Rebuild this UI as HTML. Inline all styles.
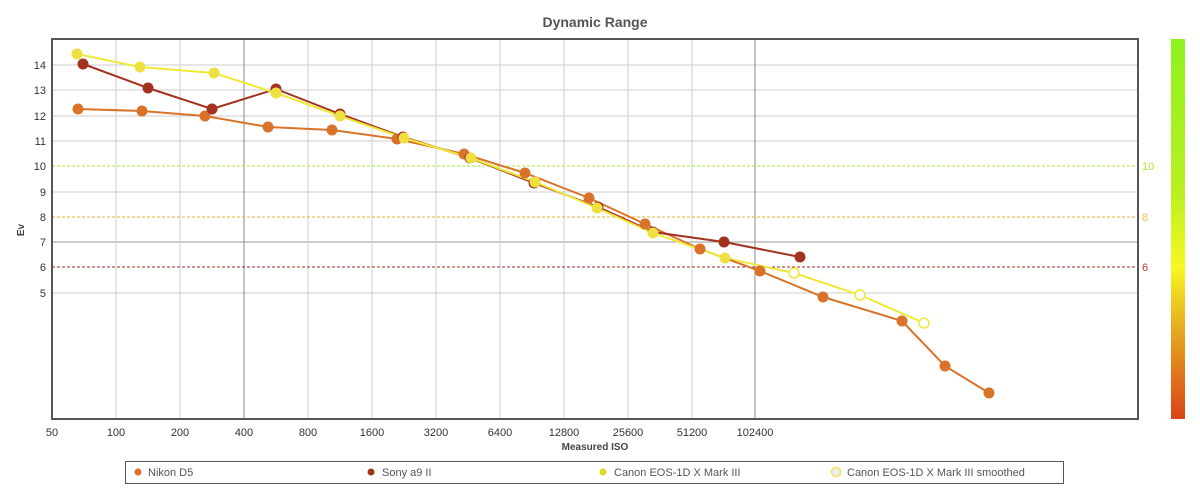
<!DOCTYPE html>
<html><head><style>body{margin:0;background:#fff;}svg{display:block;font-family:"Liberation Sans",Verdana,sans-serif;}</style></head>
<body>
<svg width="1200" height="500" xmlns="http://www.w3.org/2000/svg">
<defs>
<linearGradient id="cb" x1="0" y1="0" x2="0" y2="1">
<stop offset="0" stop-color="#8ef21e"/><stop offset="0.4" stop-color="#b8f020"/><stop offset="0.6" stop-color="#f8f820"/><stop offset="0.75" stop-color="#e8b020"/><stop offset="1" stop-color="#d84418"/>
</linearGradient>
</defs>
<text x="595" y="27" text-anchor="middle" font-size="14" font-weight="bold" fill="#555">Dynamic Range</text>
<g stroke="#ccc" stroke-width="1">
<line x1="52" x2="1138" y1="65" y2="65"/><line x1="52" x2="1138" y1="90" y2="90"/><line x1="52" x2="1138" y1="116" y2="116"/><line x1="52" x2="1138" y1="141" y2="141"/><line x1="52" x2="1138" y1="192" y2="192"/><line x1="52" x2="1138" y1="293" y2="293"/>
<line x1="52" x2="1138" y1="242" y2="242" stroke="#999"/>
<line x1="116" x2="116" y1="39" y2="419"/><line x1="180" x2="180" y1="39" y2="419"/><line x1="308" x2="308" y1="39" y2="419"/><line x1="372" x2="372" y1="39" y2="419"/><line x1="436" x2="436" y1="39" y2="419"/><line x1="500" x2="500" y1="39" y2="419"/><line x1="564" x2="564" y1="39" y2="419"/><line x1="628" x2="628" y1="39" y2="419"/><line x1="692" x2="692" y1="39" y2="419"/>
<line x1="244" x2="244" y1="39" y2="419" stroke="#888"/><line x1="755" x2="755" y1="39" y2="419" stroke="#888"/>
</g>
<line x1="52" x2="1138" y1="166" y2="166" stroke="#a8e830" stroke-dasharray="3,2"/>
<line x1="52" x2="1138" y1="217" y2="217" stroke="#e0b030" stroke-dasharray="3,2"/>
<line x1="52" x2="1138" y1="267" y2="267" stroke="#903020" stroke-dasharray="3,2"/>
<rect x="52" y="39" width="1086" height="380" fill="none" stroke="#555" stroke-width="2"/>
<g font-size="11" fill="#333" text-anchor="end">
<text x="46" y="69">14</text><text x="46" y="94">13</text><text x="46" y="120">12</text><text x="46" y="145">11</text><text x="46" y="170">10</text><text x="46" y="196">9</text><text x="46" y="221">8</text><text x="46" y="246">7</text><text x="46" y="271">6</text><text x="46" y="297">5</text>
</g>
<g font-size="11" text-anchor="start"><text x="1142" y="170" fill="#a8e830">10</text><text x="1142" y="221" fill="#e8c050">8</text><text x="1142" y="271" fill="#c04030">6</text></g>
<text x="24" y="230" font-size="10" font-weight="bold" fill="#444" transform="rotate(-90 24 230)" text-anchor="middle">Ev</text>
<g font-size="11" fill="#333" text-anchor="middle">
<text x="52" y="436">50</text><text x="116" y="436">100</text><text x="180" y="436">200</text><text x="244" y="436">400</text><text x="308" y="436">800</text><text x="372" y="436">1600</text><text x="436" y="436">3200</text><text x="500" y="436">6400</text><text x="564" y="436">12800</text><text x="628" y="436">25600</text><text x="692" y="436">51200</text><text x="755" y="436">102400</text>
</g>
<text x="595" y="450" font-size="10" font-weight="bold" fill="#444" text-anchor="middle">Measured ISO</text>
<rect x="1171" y="39" width="14" height="380" fill="url(#cb)"/>
<g fill="none" stroke-width="2">
<polyline stroke="#f0e838" points="725,258 794,273 860,295 924,323"/>
<polyline stroke="#d9732a" points="78,109 142,111 205,116 268,127 332,130 397,139 464,154 525,173 589,198 645,224 700,249 760,271 823,297 902,321 945,366 989,393"/>
<polyline stroke="#a3321e" points="83,64 148,88 212,109 276,89 340,114 403,137 470,158 534,183 598,207 653,232 724,242 800,257"/>
<polyline stroke="#f0e838" points="77,54 140,67 214,73 276,93 340,116 404,138 471,158 535,182 597,208 653,233 725,258"/>
</g>
<g fill="#fff" stroke="#f0e838" stroke-width="1.5"><circle cx="794" cy="273" r="5"/><circle cx="860" cy="295" r="5"/><circle cx="924" cy="323" r="5"/></g>
<g fill="#d9732a"><circle cx="78" cy="109" r="5.5"/><circle cx="142" cy="111" r="5.5"/><circle cx="205" cy="116" r="5.5"/><circle cx="268" cy="127" r="5.5"/><circle cx="332" cy="130" r="5.5"/><circle cx="397" cy="139" r="5.5"/><circle cx="464" cy="154" r="5.5"/><circle cx="525" cy="173" r="5.5"/><circle cx="589" cy="198" r="5.5"/><circle cx="645" cy="224" r="5.5"/><circle cx="700" cy="249" r="5.5"/><circle cx="760" cy="271" r="5.5"/><circle cx="823" cy="297" r="5.5"/><circle cx="902" cy="321" r="5.5"/><circle cx="945" cy="366" r="5.5"/><circle cx="989" cy="393" r="5.5"/></g>
<g fill="#a3321e"><circle cx="83" cy="64" r="5.5"/><circle cx="148" cy="88" r="5.5"/><circle cx="212" cy="109" r="5.5"/><circle cx="276" cy="89" r="5.5"/><circle cx="340" cy="114" r="5.5"/><circle cx="403" cy="137" r="5.5"/><circle cx="470" cy="158" r="5.5"/><circle cx="534" cy="183" r="5.5"/><circle cx="598" cy="207" r="5.5"/><circle cx="653" cy="232" r="5.5"/><circle cx="724" cy="242" r="5.5"/><circle cx="800" cy="257" r="5.5"/></g>
<g fill="#eee040"><circle cx="77" cy="54" r="5.5"/><circle cx="140" cy="67" r="5.5"/><circle cx="214" cy="73" r="5.5"/><circle cx="276" cy="93" r="5.5"/><circle cx="340" cy="116" r="5.5"/><circle cx="404" cy="138" r="5.5"/><circle cx="471" cy="158" r="5.5"/><circle cx="535" cy="182" r="5.5"/><circle cx="597" cy="208" r="5.5"/><circle cx="653" cy="233" r="5.5"/><circle cx="725" cy="258" r="5.5"/></g>
<rect x="125.5" y="461.5" width="938" height="22" fill="#fff" stroke="#555" stroke-width="1"/>
<g font-size="11" fill="#555">
<circle cx="138" cy="472" r="3.5" fill="#d9732a"/><text x="148" y="476">Nikon D5</text>
<circle cx="371" cy="472" r="3.5" fill="#a3321e"/><text x="382" y="476">Sony a9 II</text>
<circle cx="603" cy="472" r="3.5" fill="#e0d820"/><text x="614" y="476">Canon EOS-1D X Mark III</text>
<circle cx="836" cy="472" r="4.5" fill="#eee" stroke="#f0e060" stroke-width="1.5"/><text x="847" y="476">Canon EOS-1D X Mark III smoothed</text>
</g>
</svg>
</body></html>
